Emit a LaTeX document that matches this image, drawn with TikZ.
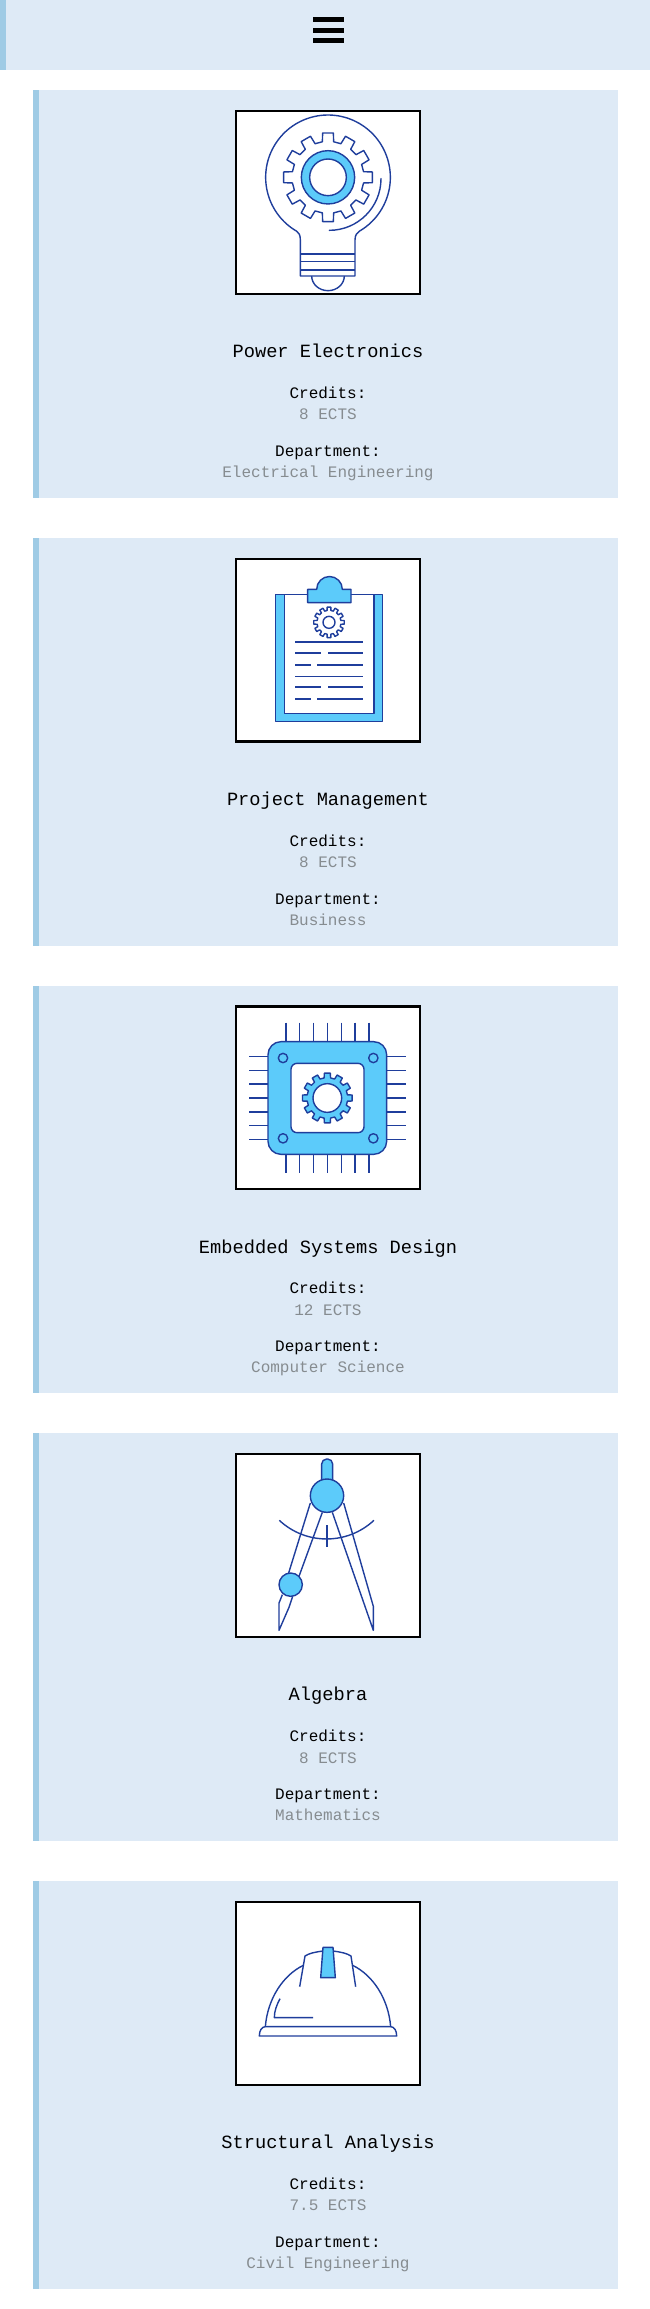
\documentclass[tikz,border=0pt]{standalone}
\usepackage{fontspec}
\setmainfont{Liberation Mono}
\definecolor{cardbg}{HTML}{DEEAF6}
\definecolor{cardbar}{HTML}{9FCBE5}
\definecolor{iconline}{HTML}{1F3E9C}
\definecolor{iconfill}{HTML}{5CCBFA}
\definecolor{muted}{HTML}{868C90}
\tikzset{
  cardrect/.style={fill=cardbg,draw=none},
  barrect/.style={fill=cardbar,draw=none},
  framebox/.style={draw=black,line width=2.2pt,fill=white},
  ico/.style={draw=iconline,line width=1.4pt,line join=round},
  icof/.style={ico,fill=iconfill},
  icow/.style={ico,fill=white},
  titletext/.style={anchor=base,font=\fontsize{18.7}{20}\selectfont,text=black,inner sep=0pt},
  labeltext/.style={anchor=base,font=\fontsize{16}{18}\selectfont,text=black,inner sep=0pt},
  valuetext/.style={anchor=base,font=\fontsize{16}{18}\selectfont,text=muted,inner sep=0pt},
}
% gear: centre x, centre y, outer r, root r, teeth, style
\newcommand{\mygear}[6]{%
  \begin{scope}[shift={(#1,#2)}]
    \pgfmathsetmacro{\st}{360/#5}
    \pgfmathsetmacro{\ht}{0.23*\st}
    \pgfmathsetmacro{\hr}{0.30*\st}
    \pgfmathsetmacro{\last}{#5-1}
    \draw[#6] (-90-\hr:#4)
      \foreach \k in {0,...,\last}{
        -- ({-90+\k*\st-\hr}:#4) -- ({-90+\k*\st-\ht}:#3)
        -- ({-90+\k*\st+\ht}:#3) -- ({-90+\k*\st+\hr}:#4)
      } -- cycle;
  \end{scope}}
\newcommand{\mycard}[5]{% offset, title, credits, dept, idx
  \begin{scope}[yshift=-#1pt]
    \path[cardrect] (33,90) rectangle (618,497.8);
    \path[barrect] (33,90) rectangle (39,497.8);
    \path[framebox] (236.3,111) rectangle (419.6,293.7);
    \node[titletext] (title#5) at (328,357.6) {#2};
    \node[labeltext] (clabel#5) at (328,398.4) {Credits:};
    \node[valuetext] (cval#5) at (328,419.8) {#3};
    \node[labeltext] (dlabel#5) at (328,456.3) {Department:};
    \node[valuetext] (dval#5) at (328,477.4) {#4};
  \end{scope}}
\begin{document}
\begin{tikzpicture}[x=1pt,y=-1pt]
\useasboundingbox (0,0) rectangle (650,2309);
\path[fill=white] (0,0) rectangle (650,2309);
\path[cardrect] (0,0) rectangle (650,70);
\path[barrect] (0,0) rectangle (6,70);
\foreach \yy in {17.5,28,38.5}{\path[fill=black] (313,\yy) rectangle (343.5,\yy+4.6);}
\mycard{0}{Power Electronics}{8 ECTS}{Electrical Engineering}{1}
\mycard{447.75}{Project Management}{8 ECTS}{Business}{2}
\mycard{895.5}{Embedded Systems Design}{12 ECTS}{Computer Science}{3}
\mycard{1343.25}{Algebra}{8 ECTS}{Mathematics}{4}
\mycard{1791}{Structural Analysis}{7.5 ECTS}{Civil Engineering}{5}
% ---- bulb
\begin{scope}[shift={(225,100)},scale=1/3]
  \draw[ico] (226,528) -- (226,420) .. controls (226,405) and (222,399) .. (215.5,394)
     arc[start angle=120,end angle=420,radius=187]
     .. controls (396,399) and (390,405) .. (390,420) -- (390,528) -- cycle;
  \draw[ico] (226,462) -- (390,462) (226,485) -- (390,485) (226,510) -- (390,510);
  \draw[ico] (260,528) arc[start angle=180,end angle=0,x radius=49,y radius=44];
  \mygear{309}{232}{134}{108}{12}{ico}
  \draw[icof] (309,232) circle[radius=80];
  \draw[icow] (309,232) circle[radius=55];
  \draw[ico,line cap=round] (468,236) arc[start angle=0,end angle=90,radius=155];
\end{scope}
% ---- clipboard
\begin{scope}[shift={(225,550)},scale=1/3]
  \draw[icof] (152,134) rectangle (472,515);
  \draw[icow] (178,134) rectangle (447,490);
  \draw[icof] (248,118) -- (275,118) arc[start angle=180,end angle=360,radius=38.5] -- (378,118) -- (378,158) -- (248,158) -- cycle;
  \mygear{312}{217}{46}{36}{12}{ico}
  \draw[ico] (312,217) circle[radius=18];
  \foreach \yy in {276,380}{\draw[ico] (210,\yy) -- (414,\yy);}
  \foreach \yy in {309,411}{\draw[ico] (210,\yy) -- (288,\yy) (310,\yy) -- (414,\yy);}
  \foreach \yy in {345,447}{\draw[ico] (210,\yy) -- (258,\yy) (276,\yy) -- (414,\yy);}
\end{scope}
% ---- chip
\begin{scope}[shift={(225,1000)},scale=1/3]
  \foreach \xx in {183,224,266,307,349,390,432}{\draw[ico] (\xx,68) -- (\xx,125) (\xx,463) -- (\xx,520);}
  \foreach \yy in {169,211,252,294,336,377,419}{\draw[ico] (72,\yy) -- (129,\yy) (485,\yy) -- (542,\yy);}
  \draw[icof,rounded corners=13pt] (129,125) rectangle (485,463);
  \draw[icow,rounded corners=6pt] (198,190) rectangle (417,398);
  \mygear{307}{294}{75}{61}{12}{icof}
  \draw[icow] (307,294) circle[radius=43];
  \foreach \xx in {174,445}{\foreach \yy in {174,415}{\draw[ico] (\xx,\yy) circle[radius=14];}}
\end{scope}
% ---- compass
\begin{scope}[shift={(225,1448)},scale=1/3]
  \draw[icof,rounded corners=5pt] (290,100) -- (290,33) -- (323,33) -- (323,100);
  \draw[ico] (163,217) arc[start angle=133,end angle=47,radius=208];
  \draw[ico] (306,232) -- (306,296);
  \draw[ico] (256,165) -- (190,378) (292,193) -- (222,385);
  \draw[ico] (172,440) -- (162,465) -- (162,547) -- (192,478) -- (203,445);
  \draw[ico] (356,165) -- (445,475) -- (445,547) -- (322,193);
  \draw[icof] (306,143) circle[radius=50];
  \draw[icof] (197,410) circle[radius=35];
\end{scope}
% ---- helmet
\begin{scope}[shift={(225,1900)},scale=1/3]
  \draw[ico] (121,380) .. controls (128,295) and (175,225) .. (235,196);
  \draw[ico] (383,196) .. controls (443,225) and (490,295) .. (497,380);
  \draw[ico] (294,153) .. controls (270,156) and (252,160) .. (240,168) -- (224,260);
  \draw[ico] (324,153) .. controls (348,156) and (366,160) .. (378,168) -- (392,260);
  \draw[icof] (294,142) -- (324,142) -- (331,233) -- (287,233) -- cycle;
  \draw[ico] (103,408) .. controls (103,392) and (110,380) .. (121,380) -- (497,380) .. controls (508,380) and (515,392) .. (515,408) -- cycle;
  \draw[ico] (165,296) .. controls (155,315) and (148,333) .. (148,353) -- (264,353);
\end{scope}
\end{tikzpicture}
\end{document}
